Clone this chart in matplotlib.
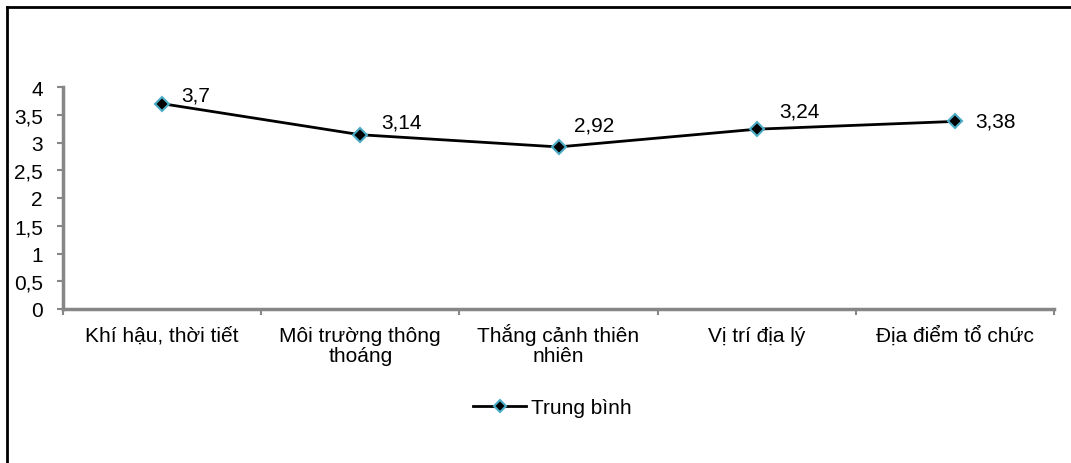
import matplotlib.pyplot as plt
from matplotlib.lines import Line2D

categories = ['Khí hậu, thời tiết', 'Môi trường thông\nthoáng', 'Thắng cảnh thiên\nnhiên',
              'Vị trí địa lý', 'Địa điểm tổ chức']
values = [3.7, 3.14, 2.92, 3.24, 3.38]
value_labels = ['3,7', '3,14', '2,92', '3,24', '3,38']
y_ticks = [0, 0.5, 1, 1.5, 2, 2.5, 3, 3.5, 4]
y_tick_labels = ['0', '0,5', '1', '1,5', '2', '2,5', '3', '3,5', '4']

# label offsets in points (dx, dy) as placed in the source chart
label_offsets = [(14, 6.5), (15, 9.5), (11, 16), (16, 13), (15, 0)]

plt.rcParams['font.family'] = ['Liberation Sans', 'DejaVu Sans']
axis_gray = '#868686'
fs = 15

fig = plt.figure(figsize=(10.71, 4.64), dpi=100)
ax = fig.add_axes([63 / 1071, (464 - 310) / 464, (1054 - 63) / 1071, 222 / 464])

x = list(range(len(categories)))
ax.plot(x, values, color='black', linewidth=2, marker='D', markersize=7,
        markerfacecolor='black', markeredgecolor='#4BACC6', markeredgewidth=1.5,
        zorder=3)

for xi, v, lab, (dx, dy) in zip(x, values, value_labels, label_offsets):
    ax.annotate(lab, (xi, v), xytext=(dx, dy), textcoords='offset points',
                ha='left', va='center', fontsize=fs)

ax.set_xlim(-0.5, len(categories) - 0.5)
ax.set_ylim(0, 4)
ax.set_yticks(y_ticks)
ax.set_yticklabels(y_tick_labels, fontsize=fs)
ax.tick_params(axis='y', length=4.5, width=1.5, color=axis_gray, pad=10)

# category labels: drawn line by line so every first line shares one baseline
ax.set_xticks([i - 0.5 for i in range(len(categories) + 1)])
ax.set_xticklabels([])
ax.tick_params(axis='x', length=4.5, width=1.5, color=axis_gray)
for xi, cat in zip(x, categories):
    for k, line in enumerate(cat.split('\n')):
        ax.annotate(line, (xi, 0), xycoords=('data', 'axes fraction'),
                    xytext=(0, -22.7 - 14.8 * k), textcoords='offset points',
                    ha='center', va='baseline', fontsize=fs)

for side in ['top', 'right']:
    ax.spines[side].set_visible(False)
for side in ['left', 'bottom']:
    ax.spines[side].set_color(axis_gray)
    ax.spines[side].set_linewidth(2.5)

handle = Line2D([], [], color='black', linewidth=2, marker='D', markersize=6,
                markerfacecolor='black', markeredgecolor='#4BACC6', markeredgewidth=1.5)
fig.legend([handle], ['Trung bình'], loc='center left',
           bbox_to_anchor=(473 / 1071, 1 - 409 / 464), frameon=False, fontsize=fs,
           handlelength=2.55, handletextpad=0.22, borderpad=0, borderaxespad=0)

# chart border (only top and left fall inside the image)
fig.add_artist(Line2D([7 / 1071, 7 / 1071], [0, 1 - 8 / 464], color='black', linewidth=2,
                      transform=fig.transFigure))
fig.add_artist(Line2D([7 / 1071, 1], [1 - 8 / 464, 1 - 8 / 464], color='black', linewidth=2,
                      transform=fig.transFigure))

fig.savefig('out.png', dpi=100)
